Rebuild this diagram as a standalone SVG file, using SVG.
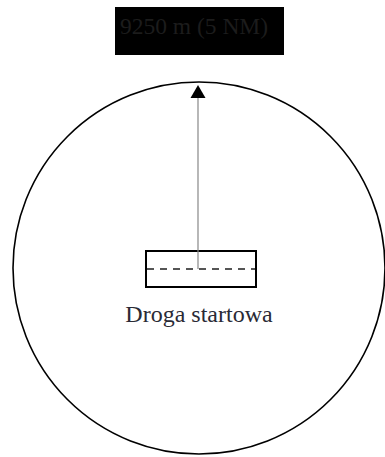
<svg xmlns="http://www.w3.org/2000/svg" width="385" height="457" viewBox="0 0 385 457">
<style>
.lbl{font-family:"Liberation Serif","Times New Roman",serif;text-anchor:middle}
</style>
<rect width="385" height="457" fill="#fff"/>
<g id="title">
<rect x="115" y="7" width="169" height="48" fill="#000"/>
<text class="lbl" x="194" y="34" font-size="23.5" fill="#1c1c1c">9250 m (5 NM)</text>
</g>
<g id="circle">
<circle cx="199" cy="268" r="186" fill="none" stroke="#000" stroke-width="1.6"/>
</g>
<g id="runway">
<rect x="146" y="251" width="110" height="36" fill="none" stroke="#000" stroke-width="2"/>
<line x1="147" y1="269" x2="255" y2="269" stroke="#555" stroke-width="2" stroke-dasharray="7,6"/>
<text class="lbl" x="199" y="322" font-size="24" fill="#2a2a35">Droga startowa</text>
</g>
<g id="connectors">
<line x1="198" y1="269" x2="198" y2="90" stroke="#888" stroke-width="1.2"/>
<path d="M190.5,98 L198,85 L205.5,98 Z" fill="#000"/>
</g>
</svg>
